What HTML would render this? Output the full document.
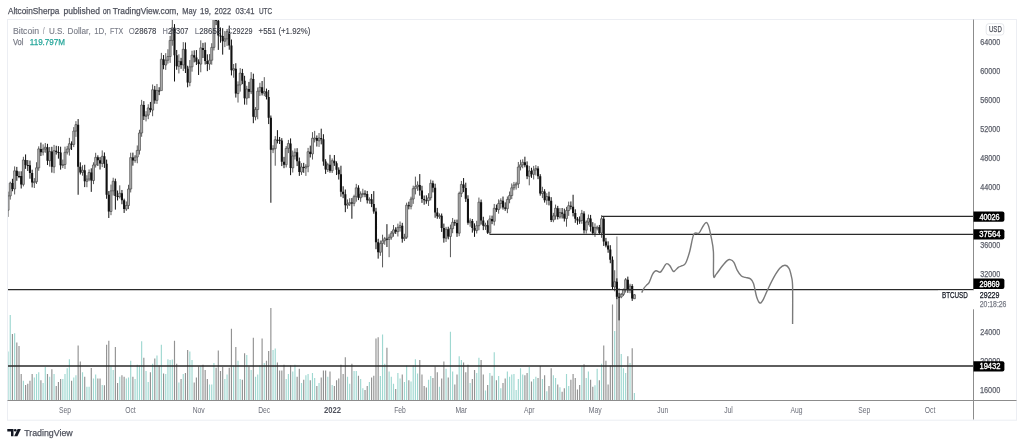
<!DOCTYPE html><html><head><meta charset="utf-8"><style>html,body{margin:0;padding:0;background:#fff;width:1024px;height:445px;overflow:hidden;position:relative}</style></head><body><svg width="1024" height="445" viewBox="0 0 1024 445" style="position:absolute;left:0;top:0;will-change:transform;filter:blur(0.4px);font-family:'Liberation Sans',sans-serif">
<rect x="7.5" y="19.5" width="1009" height="400.7" fill="none" stroke="#eceef3" stroke-width="1"/>
<defs><clipPath id="pc"><rect x="8" y="20" width="965" height="380"/></clipPath></defs>
<g clip-path="url(#pc)">
<path d="M8.06 351.60V400.0M10.25 314.90V400.0M14.63 333.30V400.0M23.39 380.70V400.0M34.34 377.50V400.0M36.53 373.90V400.0M38.72 372.20V400.0M43.10 383.00V400.0M45.29 367.00V400.0M49.67 376.80V400.0M54.05 373.90V400.0M62.81 379.10V400.0M65.00 373.90V400.0M67.19 368.30V400.0M69.38 359.20V400.0M73.76 377.50V400.0M75.95 375.20V400.0M82.52 372.20V400.0M86.90 386.70V400.0M89.09 386.70V400.0M93.47 378.40V400.0M95.66 374.50V400.0M102.23 384.90V400.0M110.99 366.50V400.0M113.18 370.00V400.0M119.75 376.80V400.0M126.32 378.40V400.0M128.51 377.50V400.0M130.70 360.80V400.0M135.08 379.10V400.0M137.27 364.70V400.0M139.46 365.40V400.0M141.65 341.30V400.0M146.03 371.10V400.0M148.22 382.10V400.0M152.60 363.80V400.0M156.98 355.50V400.0M161.36 344.70V400.0M165.74 373.90V400.0M167.93 359.20V400.0M170.12 360.10V400.0M172.31 359.60V400.0M178.88 382.60V400.0M183.26 373.90V400.0M189.83 351.60V400.0M192.02 360.10V400.0M200.78 366.50V400.0M209.54 384.40V400.0M211.73 384.40V400.0M213.92 363.10V400.0M224.87 379.10V400.0M227.06 374.50V400.0M233.63 365.40V400.0M238.01 360.80V400.0M240.20 379.10V400.0M246.77 355.00V400.0M251.15 370.00V400.0M255.53 376.80V400.0M257.72 374.50V400.0M259.91 365.40V400.0M264.29 363.10V400.0M273.05 350.00V400.0M275.24 348.60V400.0M286.19 379.10V400.0M288.38 373.90V400.0M292.76 371.60V400.0M294.95 364.70V400.0M301.52 383.00V400.0M305.90 375.20V400.0M308.09 373.90V400.0M312.47 372.90V400.0M314.66 378.00V400.0M319.04 383.00V400.0M327.80 376.80V400.0M332.18 384.90V400.0M347.51 376.80V400.0M349.70 383.70V400.0M354.08 371.10V400.0M356.27 371.10V400.0M360.65 379.10V400.0M362.84 388.30V400.0M369.41 382.10V400.0M380.36 376.10V400.0M382.55 334.40V400.0M384.74 363.80V400.0M389.12 371.60V400.0M391.31 376.80V400.0M393.50 383.70V400.0M397.88 372.90V400.0M400.07 378.40V400.0M404.45 382.10V400.0M406.64 365.40V400.0M411.02 381.40V400.0M413.21 365.40V400.0M415.40 359.20V400.0M417.59 373.40V400.0M428.54 379.80V400.0M430.73 376.10V400.0M439.49 386.70V400.0M446.06 368.80V400.0M450.44 331.70V400.0M452.63 371.60V400.0M459.20 356.20V400.0M461.39 360.10V400.0M470.15 383.00V400.0M476.72 372.90V400.0M478.91 357.80V400.0M485.48 390.60V400.0M489.86 372.90V400.0M494.24 352.30V400.0M498.62 376.10V400.0M500.81 388.30V400.0M507.38 371.60V400.0M509.57 376.80V400.0M511.76 374.50V400.0M513.95 373.90V400.0M516.14 389.90V400.0M518.33 379.10V400.0M520.52 368.30V400.0M522.71 374.50V400.0M529.28 367.00V400.0M533.66 379.10V400.0M535.85 376.80V400.0M542.42 379.10V400.0M546.80 391.30V400.0M553.37 375.20V400.0M555.56 378.00V400.0M559.94 387.20V400.0M566.51 373.90V400.0M568.70 386.00V400.0M581.84 366.50V400.0M586.22 378.00V400.0M588.41 371.60V400.0M594.98 385.30V400.0M597.17 368.80V400.0M601.55 363.80V400.0M614.69 331.00V400.0M621.26 353.90V400.0M623.45 368.30V400.0M625.64 372.90V400.0M630.02 363.10V400.0M634.40 392.90V400.0" stroke="#9fd8d1" stroke-width="1.15" fill="none"/><path d="M12.44 334.00V400.0M16.82 342.40V400.0M19.01 345.90V400.0M21.20 373.90V400.0M25.58 384.90V400.0M27.77 383.70V400.0M29.96 380.70V400.0M32.15 373.90V400.0M40.91 380.30V400.0M47.48 373.90V400.0M51.86 369.30V400.0M56.24 386.00V400.0M58.43 382.10V400.0M60.62 379.10V400.0M71.57 380.70V400.0M78.14 345.40V400.0M80.33 361.50V400.0M84.71 376.80V400.0M91.28 368.10V400.0M97.85 378.40V400.0M100.04 378.40V400.0M104.42 385.30V400.0M106.61 344.70V400.0M108.80 340.80V400.0M115.37 347.00V400.0M117.56 383.00V400.0M121.94 375.20V400.0M124.13 376.80V400.0M132.89 376.80V400.0M143.84 357.80V400.0M150.41 372.20V400.0M154.79 358.50V400.0M159.17 365.40V400.0M163.55 373.40V400.0M174.50 340.80V400.0M176.69 363.80V400.0M181.07 379.10V400.0M185.45 372.90V400.0M187.64 350.00V400.0M194.21 382.60V400.0M196.40 377.50V400.0M198.59 366.50V400.0M202.97 364.70V400.0M205.16 370.00V400.0M207.35 379.10V400.0M216.11 367.70V400.0M218.30 350.50V400.0M220.49 371.10V400.0M222.68 367.00V400.0M229.25 367.70V400.0M231.44 328.70V400.0M235.82 347.00V400.0M242.39 379.80V400.0M244.58 353.20V400.0M248.96 366.50V400.0M253.34 337.80V400.0M262.10 338.50V400.0M266.48 360.80V400.0M268.67 350.90V400.0M270.86 308.00V400.0M277.43 362.40V400.0M279.62 370.60V400.0M281.81 370.60V400.0M284.00 364.70V400.0M290.57 365.40V400.0M297.14 376.80V400.0M299.33 368.80V400.0M303.71 379.80V400.0M310.28 380.30V400.0M316.85 386.00V400.0M321.23 377.50V400.0M323.42 370.60V400.0M325.61 370.60V400.0M329.99 371.60V400.0M334.37 386.00V400.0M336.56 380.30V400.0M338.75 378.40V400.0M340.94 364.70V400.0M343.13 373.90V400.0M345.32 357.30V400.0M351.89 363.80V400.0M358.46 375.70V400.0M365.03 389.90V400.0M367.22 386.00V400.0M371.60 377.50V400.0M373.79 375.70V400.0M375.98 338.50V400.0M378.17 337.20V400.0M386.93 347.70V400.0M395.69 389.00V400.0M402.26 374.50V400.0M408.83 380.30V400.0M419.78 360.10V400.0M421.97 374.50V400.0M424.16 386.00V400.0M426.35 387.60V400.0M432.92 378.00V400.0M435.11 366.50V400.0M437.30 372.20V400.0M441.68 378.40V400.0M443.87 361.50V400.0M448.25 377.50V400.0M454.82 384.40V400.0M457.01 374.50V400.0M463.58 362.40V400.0M465.77 372.20V400.0M467.96 364.70V400.0M472.34 379.10V400.0M474.53 370.00V400.0M481.10 360.10V400.0M483.29 374.50V400.0M487.67 384.90V400.0M492.05 375.70V400.0M496.43 380.30V400.0M503.00 383.00V400.0M505.19 378.40V400.0M524.90 375.20V400.0M527.09 372.90V400.0M531.47 381.40V400.0M538.04 378.00V400.0M540.23 366.00V400.0M544.61 375.20V400.0M548.99 386.00V400.0M551.18 368.30V400.0M557.75 384.40V400.0M562.13 391.70V400.0M564.32 388.30V400.0M570.89 379.80V400.0M573.08 373.90V400.0M575.27 378.00V400.0M577.46 389.40V400.0M579.65 384.90V400.0M584.03 364.20V400.0M590.60 379.80V400.0M592.79 386.70V400.0M599.36 380.30V400.0M603.74 345.40V400.0M605.93 360.80V400.0M608.12 384.40V400.0M610.31 365.40V400.0M612.50 304.60V400.0M616.88 236.50V400.0M619.07 288.00V400.0M627.83 356.20V400.0M632.21 348.20V400.0" stroke="#929292" stroke-width="1.15" fill="none"/>
<path d="M5.87 207.65V220.83M8.06 191.64V216.90M10.25 181.69V199.61M14.63 166.37V194.44M23.39 156.79V186.39M34.34 178.11V188.01M36.53 162.24V183.94M38.72 146.33V170.74M43.10 144.34V155.43M45.29 142.97V152.79M49.67 147.03V166.61M54.05 144.92V173.18M62.81 159.56V168.12M65.00 146.66V168.96M67.19 145.88V154.51M69.38 137.85V155.59M73.76 127.12V147.12M75.95 121.15V136.86M82.52 165.28V175.69M86.90 175.22V187.22M89.09 169.43V181.21M93.47 162.30V184.13M95.66 152.79V167.57M102.23 150.43V167.10M110.99 184.60V215.18M113.18 177.73V195.55M119.75 185.32V198.53M126.32 201.48V210.92M128.51 184.79V209.09M130.70 152.71V192.46M135.08 155.02V162.72M137.27 145.44V163.26M139.46 129.77V154.57M141.65 99.85V136.77M146.03 111.18V121.41M148.22 104.27V119.17M152.60 84.46V116.23M156.98 83.97V103.88M161.36 52.86V76.42M165.74 53.13V69.90M167.93 49.24V63.63M170.12 35.91V62.87M172.31 19.92V45.72M178.88 54.31V73.45M183.26 42.14V71.05M189.83 60.06V86.26M192.02 50.74V71.65M200.78 40.32V72.27M209.54 54.09V69.89M211.73 43.23V64.69M213.92 12.33V50.45M224.87 31.05V47.14M227.06 28.98V45.92M233.63 64.00V77.73M238.01 81.37V102.56M240.20 68.13V91.61M246.77 85.82V104.74M251.15 72.14V94.09M255.53 107.13V120.37M257.72 87.51V119.26M259.91 82.81V95.93M264.29 77.15V96.10M273.05 145.22V153.10M275.24 136.12V165.72M286.19 146.07V167.45M288.38 139.91V153.10M292.76 150.55V172.55M294.95 148.37V159.57M301.52 163.14V174.92M305.90 164.23V175.88M308.09 147.88V172.23M312.47 132.12V159.55M314.66 130.87V142.43M319.04 132.99V146.93M327.80 162.83V172.03M332.18 158.44V173.03M347.51 199.41V208.80M349.70 198.21V206.03M354.08 194.73V206.27M356.27 183.87V201.70M360.65 191.36V201.85M362.84 188.78V197.28M369.41 197.35V203.81M380.36 240.52V255.82M382.55 234.69V267.36M384.74 236.91V244.77M389.12 234.34V257.20M391.31 231.06V239.70M393.50 225.03V236.71M397.88 223.63V236.51M400.07 221.48V231.59M404.45 233.79V241.05M406.64 202.68V238.95M411.02 196.71V209.36M413.21 185.65V203.87M415.40 176.61V194.39M417.59 181.35V190.80M428.54 193.21V205.98M430.73 179.64V200.42M439.49 213.40V218.84M446.06 226.85V241.95M450.44 224.61V257.20M452.63 217.99V233.19M459.20 191.66V236.18M461.39 180.94V197.10M470.15 218.36V226.73M476.72 220.83V233.47M478.91 197.55V230.24M485.48 222.71V229.96M489.86 215.43V234.23M494.24 203.95V225.50M498.62 199.36V213.69M500.81 198.30V208.56M507.38 196.46V213.15M509.57 191.53V203.27M511.76 183.46V199.12M513.95 181.95V190.24M516.14 181.85V189.62M518.33 161.96V188.03M520.52 159.74V170.42M522.71 159.29V168.30M529.28 165.88V185.32M533.66 165.89V179.46M535.85 165.15V175.44M542.42 186.77V198.12M546.80 193.20V204.79M553.37 212.85V222.23M555.56 204.59V219.64M559.94 208.06V218.68M566.51 206.85V226.70M568.70 201.62V215.85M581.84 209.90V223.82M586.22 220.39V233.52M588.41 214.52V225.23M594.98 223.35V236.87M597.17 225.52V230.43M601.55 215.28V237.81M614.69 270.26V291.32M621.26 292.93V298.24M623.45 288.55V296.09M625.64 278.01V292.59M630.02 283.72V293.23M634.40 294.17V298.90" stroke="#5a5a5a" stroke-width="1.0" fill="none"/><path d="M4.87 210.22h2.0V218.36h-2.0ZM7.06 195.92h2.0V210.22h-2.0ZM9.25 183.07h2.0V195.92h-2.0ZM13.63 170.87h2.0V188.95h-2.0ZM22.39 159.98h2.0V184.38h-2.0ZM33.34 181.69h2.0V182.69h-2.0ZM35.53 167.83h2.0V181.69h-2.0ZM37.72 148.88h2.0V167.83h-2.0ZM42.10 149.09h2.0V152.14h-2.0ZM44.29 147.21h2.0V149.09h-2.0ZM48.67 151.56h2.0V160.64h-2.0ZM53.05 150.69h2.0V166.81h-2.0ZM61.81 164.49h2.0V165.49h-2.0ZM64.00 152.29h2.0V164.49h-2.0ZM66.19 149.09h2.0V152.29h-2.0ZM68.38 143.72h2.0V149.09h-2.0ZM72.76 131.09h2.0V144.38h-2.0ZM74.95 124.63h2.0V131.09h-2.0ZM81.52 170.15h2.0V172.47h-2.0ZM85.90 179.08h2.0V181.33h-2.0ZM88.09 172.54h2.0V179.08h-2.0ZM92.47 164.99h2.0V180.53h-2.0ZM94.66 157.37h2.0V164.99h-2.0ZM101.23 156.28h2.0V163.54h-2.0ZM109.99 190.84h2.0V211.46h-2.0ZM112.18 181.26h2.0V190.84h-2.0ZM118.75 193.24h2.0V196.79h-2.0ZM125.32 205.50h2.0V209.06h-2.0ZM127.51 189.02h2.0V205.50h-2.0ZM129.70 157.59h2.0V189.02h-2.0ZM134.08 157.01h2.0V160.57h-2.0ZM136.27 150.40h2.0V157.01h-2.0ZM138.46 132.98h2.0V150.40h-2.0ZM140.65 105.03h2.0V132.98h-2.0ZM145.03 115.12h2.0V116.35h-2.0ZM147.22 107.93h2.0V115.12h-2.0ZM151.60 89.71h2.0V110.11h-2.0ZM155.98 90.43h2.0V100.38h-2.0ZM160.36 59.22h2.0V90.58h-2.0ZM164.74 60.23h2.0V65.02h-2.0ZM166.93 56.53h2.0V60.23h-2.0ZM169.12 40.41h2.0V56.53h-2.0ZM171.31 27.85h2.0V40.41h-2.0ZM177.88 61.25h2.0V66.33h-2.0ZM182.26 49.27h2.0V64.88h-2.0ZM188.83 66.84h2.0V82.38h-2.0ZM191.02 55.15h2.0V66.84h-2.0ZM199.78 47.89h2.0V64.08h-2.0ZM208.54 60.23h2.0V64.08h-2.0ZM210.73 47.38h2.0V60.23h-2.0ZM212.92 16.38h2.0V47.38h-2.0ZM223.87 38.89h2.0V41.21h-2.0ZM226.06 31.63h2.0V38.89h-2.0ZM232.63 68.65h2.0V70.18h-2.0ZM237.01 84.99h2.0V93.56h-2.0ZM239.20 73.08h2.0V84.99h-2.0ZM245.77 88.98h2.0V98.20h-2.0ZM250.15 78.89h2.0V91.74h-2.0ZM254.53 109.53h2.0V116.86h-2.0ZM256.72 91.16h2.0V109.53h-2.0ZM258.91 87.31h2.0V91.16h-2.0ZM263.29 91.45h2.0V93.19h-2.0ZM272.05 148.59h2.0V149.75h-2.0ZM274.24 139.73h2.0V148.59h-2.0ZM285.19 148.37h2.0V164.70h-2.0ZM287.38 143.58h2.0V148.37h-2.0ZM291.76 155.99h2.0V167.90h-2.0ZM293.95 152.22h2.0V155.99h-2.0ZM300.52 166.95h2.0V172.04h-2.0ZM304.90 166.37h2.0V168.04h-2.0ZM307.09 151.71h2.0V166.37h-2.0ZM311.47 138.28h2.0V153.89h-2.0ZM313.66 137.99h2.0V138.99h-2.0ZM318.04 138.06h2.0V140.82h-2.0ZM326.80 164.70h2.0V169.57h-2.0ZM331.18 160.71h2.0V170.73h-2.0ZM346.51 203.98h2.0V205.21h-2.0ZM348.70 202.60h2.0V203.98h-2.0ZM353.08 196.65h2.0V203.33h-2.0ZM355.27 187.86h2.0V196.65h-2.0ZM359.65 194.03h2.0V197.74h-2.0ZM361.84 193.45h2.0V194.45h-2.0ZM368.41 199.33h2.0V200.33h-2.0ZM379.36 243.55h2.0V252.26h-2.0ZM381.55 240.79h2.0V243.55h-2.0ZM383.74 238.68h2.0V240.79h-2.0ZM388.12 237.30h2.0V239.41h-2.0ZM390.31 233.17h2.0V237.30h-2.0ZM392.50 229.83h2.0V233.17h-2.0ZM396.88 227.58h2.0V231.64h-2.0ZM399.07 225.69h2.0V227.58h-2.0ZM403.45 237.23h2.0V238.68h-2.0ZM405.64 205.14h2.0V237.23h-2.0ZM410.02 199.04h2.0V206.30h-2.0ZM412.21 188.66h2.0V199.04h-2.0ZM414.40 186.63h2.0V188.66h-2.0ZM416.59 185.03h2.0V186.63h-2.0ZM427.54 197.74h2.0V200.57h-2.0ZM429.73 183.29h2.0V197.74h-2.0ZM438.49 215.67h2.0V216.67h-2.0ZM445.06 229.25h2.0V238.17h-2.0ZM449.44 228.66h2.0V236.43h-2.0ZM451.63 222.28h2.0V228.66h-2.0ZM458.20 193.38h2.0V233.17h-2.0ZM460.39 184.45h2.0V193.38h-2.0ZM469.15 220.90h2.0V222.78h-2.0ZM475.72 225.69h2.0V230.62h-2.0ZM477.91 202.17h2.0V225.69h-2.0ZM484.48 225.18h2.0V226.18h-2.0ZM488.86 218.94h2.0V232.66h-2.0ZM493.24 208.26h2.0V221.33h-2.0ZM497.62 203.47h2.0V209.64h-2.0ZM499.81 200.64h2.0V203.47h-2.0ZM506.38 199.41h2.0V208.70h-2.0ZM508.57 195.56h2.0V199.41h-2.0ZM510.76 187.79h2.0V195.56h-2.0ZM512.95 184.96h2.0V187.79h-2.0ZM515.14 183.87h2.0V184.96h-2.0ZM517.33 167.03h2.0V183.87h-2.0ZM519.52 164.78h2.0V167.03h-2.0ZM521.71 162.31h2.0V164.78h-2.0ZM528.28 170.95h2.0V176.32h-2.0ZM532.66 170.00h2.0V174.36h-2.0ZM534.85 168.48h2.0V170.00h-2.0ZM541.42 191.57h2.0V193.53h-2.0ZM545.80 196.50h2.0V200.20h-2.0ZM552.37 215.89h2.0V219.95h-2.0ZM554.56 208.19h2.0V215.89h-2.0ZM558.94 212.55h2.0V216.98h-2.0ZM565.51 210.51h2.0V218.57h-2.0ZM567.70 205.65h2.0V210.51h-2.0ZM580.84 213.42h2.0V220.53h-2.0ZM585.22 222.06h2.0V230.19h-2.0ZM587.41 218.43h2.0V222.06h-2.0ZM593.98 227.65h2.0V233.17h-2.0ZM596.17 227.21h2.0V228.21h-2.0ZM600.55 218.79h2.0V232.88h-2.0ZM613.69 281.73h2.0V286.96h-2.0ZM620.26 294.37h2.0V296.98h-2.0ZM622.45 289.94h2.0V294.37h-2.0ZM624.64 279.70h2.0V289.94h-2.0ZM629.02 286.09h2.0V290.23h-2.0ZM633.40 294.74h2.0V298.74h-2.0Z" fill="#b4b4b4" stroke="#4a4a4a" stroke-width="0.7"/><path d="M12.44 178.79V191.27M16.82 166.90V180.76M19.01 171.30V178.16M21.20 171.28V188.52M25.58 154.41V168.88M27.77 160.06V170.98M29.96 160.55V178.73M32.15 169.69V187.45M40.91 142.64V156.01M47.48 143.81V165.06M51.86 146.80V172.63M56.24 145.77V154.57M58.43 146.17V158.66M60.62 146.70V169.65M71.57 141.36V149.99M78.14 119.05V194.76M80.33 162.34V174.47M84.71 164.78V187.11M91.28 168.32V191.86M97.85 155.31V165.94M100.04 157.06V169.54M104.42 152.44V167.93M106.61 159.61V198.79M108.80 191.08V217.99M115.37 178.65V209.64M117.56 190.50V200.50M121.94 189.98V204.25M124.13 198.67V212.98M132.89 152.63V165.66M143.84 101.13V120.00M150.41 101.93V112.39M154.79 85.92V103.72M159.17 87.20V95.11M163.55 55.04V69.27M174.50 24.13V81.50M176.69 49.98V69.77M181.07 57.84V68.82M185.45 42.45V73.00M187.64 65.74V87.31M194.21 50.35V62.36M196.40 50.05V65.04M198.59 59.34V74.97M202.97 42.92V58.00M205.16 42.45V64.54M207.35 54.33V71.14M216.11 10.15V25.12M218.30 13.38V49.92M220.49 27.50V42.72M222.68 28.12V54.64M229.25 25.60V49.73M231.44 39.49V75.43M235.82 63.23V97.57M242.39 68.89V84.14M244.58 75.82V104.62M248.96 81.92V98.20M253.34 73.69V123.21M262.10 81.03V95.44M266.48 88.59V99.46M268.67 90.01V124.09M270.86 115.49V202.75M277.43 130.15V143.45M279.62 136.94V144.02M281.81 138.13V166.08M284.00 156.86V168.19M290.57 138.40V175.16M297.14 148.19V166.08M299.33 157.56V175.88M303.71 162.84V172.84M310.28 145.64V157.46M316.85 135.44V146.55M321.23 128.69V144.37M323.42 134.23V165.76M325.61 159.18V173.89M329.99 154.83V172.73M334.37 155.04V165.88M336.56 161.33V175.04M338.75 167.34V179.55M340.94 165.72V196.73M343.13 186.27V198.15M345.32 189.51V212.18M351.89 198.10V218.72M358.46 185.25V200.11M365.03 190.31V197.22M367.22 190.95V203.48M371.60 193.98V207.12M373.79 191.13V213.72M375.98 207.80V249.21M378.17 238.78V258.65M386.93 224.16V247.03M395.69 227.25V233.93M402.26 222.84V242.68M408.83 201.70V209.38M419.78 174.07V195.66M421.97 185.77V202.87M424.16 195.53V204.72M426.35 195.32V203.77M432.92 180.62V192.40M435.11 183.70V217.76M437.30 207.92V218.78M441.68 213.50V231.92M443.87 223.58V242.67M448.25 226.72V239.34M454.82 219.70V225.88M457.01 219.59V236.87M463.58 178.06V192.15M465.77 182.71V201.94M467.96 195.27V224.74M472.34 218.99V232.64M474.53 223.35V236.87M481.10 199.55V224.59M483.29 216.77V230.13M487.67 220.38V233.96M492.05 215.62V224.14M496.43 204.54V211.93M503.00 196.55V209.55M505.19 202.35V210.84M524.90 156.71V167.31M527.09 161.40V179.13M531.47 167.76V177.85M538.04 166.23V179.16M540.23 174.16V195.66M544.61 189.19V202.59M548.99 191.70V205.40M551.18 197.17V222.03M557.75 205.89V219.46M562.13 207.99V218.51M564.32 208.63V221.52M570.89 201.43V209.42M573.08 194.76V216.43M575.27 209.31V222.84M577.46 217.09V224.72M579.65 216.45V223.85M584.03 211.25V233.53M590.60 214.92V231.60M592.79 222.15V235.11M599.36 224.93V234.62M603.74 216.35V245.93M605.93 237.89V247.36M608.12 241.33V252.77M610.31 245.20V263.23M612.50 256.43V289.10M616.88 278.32V299.13M619.07 292.89V320.36M627.83 276.62V292.87M632.21 284.17V300.92" stroke="#111" stroke-width="1" fill="none"/><path d="M11.39 183.07h2.1V188.95h-2.1ZM15.77 170.87h2.1V175.88h-2.1ZM17.96 175.88h2.1V176.88h-2.1ZM20.15 176.10h2.1V184.38h-2.1ZM24.53 159.98h2.1V164.99h-2.1ZM26.72 164.99h2.1V165.99h-2.1ZM28.91 165.36h2.1V173.05h-2.1ZM31.10 173.05h2.1V182.42h-2.1ZM39.86 148.88h2.1V152.14h-2.1ZM46.43 147.21h2.1V160.64h-2.1ZM50.81 151.56h2.1V166.81h-2.1ZM55.19 150.69h2.1V151.93h-2.1ZM57.38 151.93h2.1V152.93h-2.1ZM59.57 152.43h2.1V165.36h-2.1ZM70.52 143.72h2.1V144.72h-2.1ZM77.09 124.63h2.1V166.74h-2.1ZM79.28 166.74h2.1V172.47h-2.1ZM83.66 170.15h2.1V181.33h-2.1ZM90.23 172.54h2.1V180.53h-2.1ZM96.80 157.37h2.1V160.27h-2.1ZM98.99 160.27h2.1V163.54h-2.1ZM103.37 156.28h2.1V163.83h-2.1ZM105.56 163.83h2.1V194.76h-2.1ZM107.75 194.76h2.1V211.46h-2.1ZM114.32 181.26h2.1V195.99h-2.1ZM116.51 195.99h2.1V196.99h-2.1ZM120.89 193.24h2.1V200.35h-2.1ZM123.08 200.35h2.1V209.06h-2.1ZM131.84 157.59h2.1V160.57h-2.1ZM142.79 105.03h2.1V116.35h-2.1ZM149.36 107.93h2.1V110.11h-2.1ZM153.74 89.71h2.1V100.38h-2.1ZM158.12 90.43h2.1V91.43h-2.1ZM162.50 59.22h2.1V65.02h-2.1ZM173.45 27.85h2.1V55.30h-2.1ZM175.64 55.30h2.1V66.33h-2.1ZM180.02 61.25h2.1V64.88h-2.1ZM184.40 49.27h2.1V68.73h-2.1ZM186.59 68.73h2.1V82.38h-2.1ZM193.16 55.15h2.1V57.62h-2.1ZM195.35 57.62h2.1V61.76h-2.1ZM197.54 61.76h2.1V64.08h-2.1ZM201.92 47.89h2.1V50.07h-2.1ZM204.11 50.07h2.1V60.89h-2.1ZM206.30 60.89h2.1V64.08h-2.1ZM215.06 16.38h2.1V20.74h-2.1ZM217.25 20.74h2.1V35.40h-2.1ZM219.44 35.40h2.1V36.40h-2.1ZM221.63 36.06h2.1V41.21h-2.1ZM228.20 31.63h2.1V45.49h-2.1ZM230.39 45.49h2.1V70.18h-2.1ZM234.77 68.65h2.1V93.56h-2.1ZM241.34 73.08h2.1V80.78h-2.1ZM243.53 80.78h2.1V98.20h-2.1ZM247.91 88.98h2.1V91.74h-2.1ZM252.29 78.89h2.1V116.86h-2.1ZM261.05 87.31h2.1V93.19h-2.1ZM265.43 91.45h2.1V96.90h-2.1ZM267.62 96.90h2.1V117.80h-2.1ZM269.81 117.80h2.1V149.75h-2.1ZM276.38 139.73h2.1V140.73h-2.1ZM278.57 139.80h2.1V140.80h-2.1ZM280.76 140.53h2.1V161.80h-2.1ZM282.95 161.80h2.1V164.70h-2.1ZM289.52 143.58h2.1V167.90h-2.1ZM296.09 152.22h2.1V161.15h-2.1ZM298.28 161.15h2.1V172.04h-2.1ZM302.66 166.95h2.1V168.04h-2.1ZM309.23 151.71h2.1V153.89h-2.1ZM315.80 137.99h2.1V140.82h-2.1ZM320.18 138.06h2.1V139.29h-2.1ZM322.37 139.29h2.1V161.44h-2.1ZM324.56 161.44h2.1V169.57h-2.1ZM328.94 164.70h2.1V170.73h-2.1ZM333.32 160.71h2.1V163.25h-2.1ZM335.51 163.25h2.1V169.64h-2.1ZM337.70 169.64h2.1V174.21h-2.1ZM339.89 174.21h2.1V191.71h-2.1ZM342.08 191.71h2.1V194.18h-2.1ZM344.27 194.18h2.1V205.21h-2.1ZM350.84 202.60h2.1V203.60h-2.1ZM357.41 187.86h2.1V197.74h-2.1ZM363.98 193.45h2.1V194.45h-2.1ZM366.17 193.96h2.1V200.20h-2.1ZM370.55 199.33h2.1V203.91h-2.1ZM372.74 203.91h2.1V211.53h-2.1ZM374.93 211.53h2.1V242.31h-2.1ZM377.12 242.31h2.1V252.26h-2.1ZM385.88 238.68h2.1V239.68h-2.1ZM394.64 229.83h2.1V231.64h-2.1ZM401.21 225.69h2.1V238.68h-2.1ZM407.78 205.14h2.1V206.30h-2.1ZM418.73 185.03h2.1V190.62h-2.1ZM420.92 190.62h2.1V199.04h-2.1ZM423.11 199.04h2.1V200.28h-2.1ZM425.30 200.28h2.1V201.28h-2.1ZM431.87 183.29h2.1V187.79h-2.1ZM434.06 187.79h2.1V212.62h-2.1ZM436.25 212.62h2.1V216.32h-2.1ZM440.63 215.67h2.1V227.94h-2.1ZM442.82 227.94h2.1V238.17h-2.1ZM447.20 229.25h2.1V236.43h-2.1ZM453.77 222.28h2.1V223.28h-2.1ZM455.96 223.07h2.1V233.17h-2.1ZM462.53 184.45h2.1V188.08h-2.1ZM464.72 188.08h2.1V198.75h-2.1ZM466.91 198.75h2.1V222.78h-2.1ZM471.29 220.90h2.1V228.01h-2.1ZM473.48 228.01h2.1V230.62h-2.1ZM480.05 202.17h2.1V220.61h-2.1ZM482.24 220.61h2.1V225.76h-2.1ZM486.62 225.18h2.1V232.66h-2.1ZM491.00 218.94h2.1V221.33h-2.1ZM495.38 208.26h2.1V209.64h-2.1ZM501.95 200.64h2.1V207.46h-2.1ZM504.14 207.46h2.1V208.70h-2.1ZM523.85 162.31h2.1V165.28h-2.1ZM526.04 165.28h2.1V176.32h-2.1ZM530.42 170.95h2.1V174.36h-2.1ZM536.99 168.48h2.1V176.25h-2.1ZM539.18 176.25h2.1V193.53h-2.1ZM543.56 191.57h2.1V200.20h-2.1ZM547.94 196.50h2.1V200.86h-2.1ZM550.13 200.86h2.1V219.95h-2.1ZM556.70 208.19h2.1V216.98h-2.1ZM561.08 212.55h2.1V213.64h-2.1ZM563.27 213.64h2.1V218.57h-2.1ZM569.84 205.65h2.1V206.67h-2.1ZM572.03 206.67h2.1V213.06h-2.1ZM574.22 213.06h2.1V218.65h-2.1ZM576.41 218.65h2.1V220.39h-2.1ZM578.60 220.39h2.1V221.39h-2.1ZM582.98 213.42h2.1V230.19h-2.1ZM589.55 218.43h2.1V226.70h-2.1ZM591.74 226.70h2.1V233.17h-2.1ZM598.31 227.21h2.1V232.88h-2.1ZM602.69 218.79h2.1V241.59h-2.1ZM604.88 241.59h2.1V245.51h-2.1ZM607.07 245.51h2.1V249.43h-2.1ZM609.26 249.43h2.1V259.66h-2.1ZM611.45 259.66h2.1V286.96h-2.1ZM615.83 281.73h2.1V296.84h-2.1ZM618.02 296.84h2.1V297.84h-2.1ZM626.78 279.70h2.1V290.23h-2.1ZM631.16 286.09h2.1V298.58h-2.1Z" fill="#111"/>
</g>
<path d="M602 216.4H973M489.5 234.3H973M8 289.6H973M8 366H973" stroke="#2a2a2a" stroke-width="1.3" fill="none"/>
<path d="M641.70 292.60 C642.12 291.82 643.28 289.25 644.20 287.90 C645.12 286.55 646.37 285.43 647.20 284.50 C648.03 283.57 648.35 283.92 649.20 282.30 C650.05 280.68 651.45 276.57 652.30 274.80 C653.15 273.03 653.63 272.38 654.30 271.70 C654.97 271.02 655.35 270.60 656.30 270.70 C657.25 270.80 658.98 272.47 660.00 272.30 C661.02 272.13 661.60 270.80 662.40 269.70 C663.20 268.60 664.07 266.72 664.80 265.70 C665.53 264.68 665.95 263.60 666.80 263.60 C667.65 263.60 668.88 264.45 669.90 265.70 C670.92 266.95 672.07 270.27 672.90 271.10 C673.73 271.93 673.95 271.37 674.90 270.70 C675.85 270.03 677.38 267.93 678.60 267.10 C679.82 266.27 681.02 266.38 682.20 265.70 C683.38 265.02 684.45 265.37 685.70 263.00 C686.95 260.63 688.35 256.28 689.70 251.50 C691.05 246.72 692.28 237.33 693.80 234.30 C695.32 231.27 697.35 234.48 698.80 233.30 C700.25 232.12 701.32 228.98 702.50 227.20 C703.68 225.42 704.93 222.93 705.90 222.60 C706.87 222.27 707.45 222.92 708.30 225.20 C709.15 227.48 710.15 231.92 711.00 236.30 C711.85 240.68 712.97 244.92 713.40 251.50 C713.83 258.08 713.15 271.98 713.60 275.80 C714.05 279.62 714.68 275.98 716.10 274.40 C717.52 272.82 720.25 268.60 722.10 266.30 C723.95 264.00 725.85 261.72 727.20 260.60 C728.55 259.48 729.08 259.32 730.20 259.60 C731.32 259.88 732.72 260.50 733.90 262.30 C735.08 264.10 736.05 268.12 737.30 270.40 C738.55 272.68 740.05 274.83 741.40 276.00 C742.75 277.17 743.88 276.92 745.40 277.40 C746.92 277.88 749.15 277.88 750.50 278.90 C751.85 279.92 752.48 280.53 753.50 283.50 C754.52 286.47 755.58 293.48 756.60 296.70 C757.62 299.92 758.60 302.13 759.60 302.80 C760.60 303.47 761.25 302.90 762.60 300.70 C763.95 298.50 765.83 293.48 767.70 289.60 C769.57 285.72 771.78 280.95 773.80 277.40 C775.82 273.85 777.95 270.32 779.80 268.30 C781.65 266.28 783.37 265.30 784.90 265.30 C786.43 265.30 787.92 266.45 789.00 268.30 C790.08 270.15 790.80 273.35 791.40 276.40 C792.00 279.45 792.40 278.67 792.60 286.60 C792.80 294.53 792.60 317.77 792.60 324.00" stroke="#7a7a7a" stroke-width="1.4" fill="none" stroke-linejoin="round"/>
<path d="M973.5 19.5V419.5M7.5 400.5H1016.5" stroke="#8c8c8c" stroke-width="1" fill="none"/>
<text x="980.17" y="45.0" font-size="8.8" fill="#5d606b" stroke="#5d606b" stroke-width="0.25" font-weight="normal" textLength="20.03" lengthAdjust="spacingAndGlyphs">64000</text>
<text x="980.17" y="74.04" font-size="8.8" fill="#5d606b" stroke="#5d606b" stroke-width="0.25" font-weight="normal" textLength="20.03" lengthAdjust="spacingAndGlyphs">60000</text>
<text x="980.17" y="103.08" font-size="8.8" fill="#5d606b" stroke="#5d606b" stroke-width="0.25" font-weight="normal" textLength="20.03" lengthAdjust="spacingAndGlyphs">56000</text>
<text x="980.17" y="132.12" font-size="8.8" fill="#5d606b" stroke="#5d606b" stroke-width="0.25" font-weight="normal" textLength="20.03" lengthAdjust="spacingAndGlyphs">52000</text>
<text x="980.17" y="161.16" font-size="8.8" fill="#5d606b" stroke="#5d606b" stroke-width="0.25" font-weight="normal" textLength="20.03" lengthAdjust="spacingAndGlyphs">48000</text>
<text x="980.17" y="190.2" font-size="8.8" fill="#5d606b" stroke="#5d606b" stroke-width="0.25" font-weight="normal" textLength="20.03" lengthAdjust="spacingAndGlyphs">44000</text>
<text x="980.13" y="219.24" font-size="8.8" fill="#5d606b" stroke="#5d606b" stroke-width="0.25" font-weight="normal" textLength="20.11" lengthAdjust="spacingAndGlyphs">40000</text>
<text x="980.19" y="248.28" font-size="8.8" fill="#5d606b" stroke="#5d606b" stroke-width="0.25" font-weight="normal" textLength="20.03" lengthAdjust="spacingAndGlyphs">36000</text>
<text x="980.19" y="277.32" font-size="8.8" fill="#5d606b" stroke="#5d606b" stroke-width="0.25" font-weight="normal" textLength="20.03" lengthAdjust="spacingAndGlyphs">32000</text>
<text x="980.14" y="306.36" font-size="8.8" fill="#5d606b" stroke="#5d606b" stroke-width="0.25" font-weight="normal" textLength="20.11" lengthAdjust="spacingAndGlyphs">28000</text>
<text x="980.19" y="335.4" font-size="8.8" fill="#5d606b" stroke="#5d606b" stroke-width="0.25" font-weight="normal" textLength="20.03" lengthAdjust="spacingAndGlyphs">24000</text>
<text x="980.14" y="364.44" font-size="8.8" fill="#5d606b" stroke="#5d606b" stroke-width="0.25" font-weight="normal" textLength="20.11" lengthAdjust="spacingAndGlyphs">20000</text>
<text x="979.99" y="393.48" font-size="8.8" fill="#5d606b" stroke="#5d606b" stroke-width="0.25" font-weight="normal" textLength="20.28" lengthAdjust="spacingAndGlyphs">16000</text>
<rect x="938" y="290.3" width="35" height="9.7" fill="#fff" fill-opacity="0.6"/>
<rect x="973" y="290.3" width="34" height="19" fill="#fff"/>
<path d="M973.5 211.4H1002.4Q1004.4 211.4 1004.4 213.4V219.8Q1004.4 221.8 1002.4 221.8H973.5Z" fill="#000"/>
<path d="M973.5 229.2H1002.4Q1004.4 229.2 1004.4 231.2V237.6Q1004.4 239.6 1002.4 239.6H973.5Z" fill="#000"/>
<path d="M973.5 278.6H1002.4Q1004.4 278.6 1004.4 280.6V287.0Q1004.4 289.0 1002.4 289.0H973.5Z" fill="#000"/>
<path d="M973.5 361.2H1002.4Q1004.4 361.2 1004.4 363.2V369.59999999999997Q1004.4 371.59999999999997 1002.4 371.59999999999997H973.5Z" fill="#000"/>
<rect x="986.2" y="23.7" width="17.6" height="11.3" rx="2.5" fill="#fff" stroke="#e3e5ea" stroke-width="0.9"/>
<text x="7.97" y="14.1" font-size="8.6" fill="#50535e" stroke="#50535e" stroke-width="0.25" font-weight="normal" textLength="51.47" lengthAdjust="spacingAndGlyphs">AltcoinSherpa</text>
<text x="63.55" y="14.1" font-size="8.6" fill="#50535e" stroke="#50535e" stroke-width="0.25" font-weight="normal" textLength="36.31" lengthAdjust="spacingAndGlyphs">published</text>
<text x="102.78" y="14.1" font-size="8.6" fill="#50535e" stroke="#50535e" stroke-width="0.25" font-weight="normal" textLength="8.08" lengthAdjust="spacingAndGlyphs">on</text>
<text x="112.76" y="14.1" font-size="8.6" fill="#50535e" stroke="#50535e" stroke-width="0.25" font-weight="normal" textLength="65.88" lengthAdjust="spacingAndGlyphs">TradingView.com,</text>
<text x="182.33" y="14.1" font-size="8.6" fill="#50535e" stroke="#50535e" stroke-width="0.25" font-weight="normal" textLength="14.14" lengthAdjust="spacingAndGlyphs">May</text>
<text x="199.98" y="14.1" font-size="8.6" fill="#50535e" stroke="#50535e" stroke-width="0.25" font-weight="normal" textLength="11.09" lengthAdjust="spacingAndGlyphs">19,</text>
<text x="214.56" y="14.1" font-size="8.6" fill="#50535e" stroke="#50535e" stroke-width="0.25" font-weight="normal" textLength="16.48" lengthAdjust="spacingAndGlyphs">2022</text>
<text x="235.53" y="14.1" font-size="8.6" fill="#50535e" stroke="#50535e" stroke-width="0.25" font-weight="normal" textLength="18.92" lengthAdjust="spacingAndGlyphs">03:41</text>
<text x="258.91" y="14.1" font-size="8.6" fill="#50535e" stroke="#50535e" stroke-width="0.25" font-weight="normal" textLength="13.17" lengthAdjust="spacingAndGlyphs">UTC</text>
<text x="12.96" y="33.6" font-size="8.9" fill="#787b86" stroke="#787b86" stroke-width="0.12" font-weight="normal" textLength="26.12" lengthAdjust="spacingAndGlyphs">Bitcoin</text>
<text x="42.99" y="33.6" font-size="8.9" fill="#787b86" stroke="#787b86" stroke-width="0.12" font-weight="normal" textLength="1.47" lengthAdjust="spacingAndGlyphs">/</text>
<text x="48.95" y="33.6" font-size="8.9" fill="#787b86" stroke="#787b86" stroke-width="0.12" font-weight="normal" textLength="15.67" lengthAdjust="spacingAndGlyphs">U.S.</text>
<text x="67.55" y="33.6" font-size="8.9" fill="#787b86" stroke="#787b86" stroke-width="0.12" font-weight="normal" textLength="23.10" lengthAdjust="spacingAndGlyphs">Dollar,</text>
<text x="94.16" y="33.6" font-size="8.9" fill="#787b86" stroke="#787b86" stroke-width="0.12" font-weight="normal" textLength="12.31" lengthAdjust="spacingAndGlyphs">1D,</text>
<text x="109.92" y="33.6" font-size="8.9" fill="#787b86" stroke="#787b86" stroke-width="0.12" font-weight="normal" textLength="13.35" lengthAdjust="spacingAndGlyphs">FTX</text>
<text x="128.74" y="33.6" font-size="8.9" fill="#787b86" stroke="#787b86" stroke-width="0.12" font-weight="normal" textLength="27.72" lengthAdjust="spacingAndGlyphs">O<tspan fill="#3b3e48" stroke="#3b3e48">28678</tspan></text>
<text x="162.53" y="33.6" font-size="8.9" fill="#787b86" stroke="#787b86" stroke-width="0.12" font-weight="normal" textLength="25.93" lengthAdjust="spacingAndGlyphs">H<tspan fill="#3b3e48" stroke="#3b3e48">29307</tspan></text>
<text x="194.74" y="33.6" font-size="8.9" fill="#787b86" stroke="#787b86" stroke-width="0.12" font-weight="normal" textLength="26.50" lengthAdjust="spacingAndGlyphs">L<tspan fill="#3b3e48" stroke="#3b3e48">28655</tspan></text>
<text x="227.36" y="33.6" font-size="8.9" fill="#787b86" stroke="#787b86" stroke-width="0.12" font-weight="normal" textLength="25.11" lengthAdjust="spacingAndGlyphs">C<tspan fill="#3b3e48" stroke="#3b3e48">29229</tspan></text>
<text x="258.56" y="33.6" font-size="8.9" fill="#3b3e48" stroke="#3b3e48" stroke-width="0.12" font-weight="normal" textLength="51.89" lengthAdjust="spacingAndGlyphs">+551 (+1.92%)</text>
<text x="12.99" y="45.3" font-size="8.9" fill="#787b86" stroke="#787b86" stroke-width="0.25" font-weight="normal" textLength="10.52" lengthAdjust="spacingAndGlyphs">Vol</text>
<text x="29.75" y="45.3" font-size="8.9" fill="#26a69a" stroke="#26a69a" stroke-width="0.25" font-weight="normal" textLength="35.32" lengthAdjust="spacingAndGlyphs">119.797M</text>
<text x="941.96" y="298.3" font-size="8.3" fill="#131722" stroke="#131722" stroke-width="0.25" font-weight="normal" textLength="25.88" lengthAdjust="spacingAndGlyphs">BTCUSD</text>
<text x="979.80" y="298.3" font-size="8.3" fill="#131722" stroke="#131722" stroke-width="0.25" font-weight="normal" textLength="19.65" lengthAdjust="spacingAndGlyphs">29229</text>
<text x="979.76" y="307.3" font-size="8.3" fill="#787b86" stroke="#787b86" stroke-width="0.25" font-weight="normal" textLength="26.68" lengthAdjust="spacingAndGlyphs">20:18:26</text>
<text x="24.15" y="436.2" font-size="9.0" fill="#50535e" stroke="#50535e" stroke-width="0.25" font-weight="normal" textLength="48.52" lengthAdjust="spacingAndGlyphs">TradingView</text>
<text x="979.39" y="219.6" font-size="8.2" fill="#ffffff" stroke="#ffffff" stroke-width="0.35" font-weight="normal" textLength="20.25" lengthAdjust="spacingAndGlyphs">40026</text>
<text x="979.37" y="237.4" font-size="8.2" fill="#ffffff" stroke="#ffffff" stroke-width="0.35" font-weight="normal" textLength="21.26" lengthAdjust="spacingAndGlyphs">37564</text>
<text x="979.39" y="286.8" font-size="8.2" fill="#ffffff" stroke="#ffffff" stroke-width="0.35" font-weight="normal" textLength="20.25" lengthAdjust="spacingAndGlyphs">29869</text>
<text x="979.40" y="369.4" font-size="8.2" fill="#ffffff" stroke="#ffffff" stroke-width="0.35" font-weight="normal" textLength="21.21" lengthAdjust="spacingAndGlyphs">19432</text>
<text x="989.00" y="32.1" font-size="8.2" fill="#50535e" stroke="#50535e" stroke-width="0.25" font-weight="normal" textLength="12.78" lengthAdjust="spacingAndGlyphs">USD</text>
<text x="65" y="412.8" font-size="8.4" fill="#6a6d78" text-anchor="middle" transform="translate(65 0) scale(0.807 1) translate(-65 0)">Sep</text>
<text x="130.5" y="412.8" font-size="8.4" fill="#6a6d78" text-anchor="middle" transform="translate(130.5 0) scale(0.807 1) translate(-130.5 0)">Oct</text>
<text x="198.75" y="412.8" font-size="8.4" fill="#6a6d78" text-anchor="middle" transform="translate(198.75 0) scale(0.807 1) translate(-198.75 0)">Nov</text>
<text x="264.25" y="412.8" font-size="8.4" fill="#6a6d78" text-anchor="middle" transform="translate(264.25 0) scale(0.807 1) translate(-264.25 0)">Dec</text>
<text x="332.5" y="412.8" font-size="8.4" font-weight="bold" fill="#50535e" text-anchor="middle" textLength="17.08" lengthAdjust="spacingAndGlyphs">2022</text>
<text x="400" y="412.8" font-size="8.4" fill="#6a6d78" text-anchor="middle" transform="translate(400 0) scale(0.807 1) translate(-400 0)">Feb</text>
<text x="461.25" y="412.8" font-size="8.4" fill="#6a6d78" text-anchor="middle" transform="translate(461.25 0) scale(0.807 1) translate(-461.25 0)">Mar</text>
<text x="529.25" y="412.8" font-size="8.4" fill="#6a6d78" text-anchor="middle" transform="translate(529.25 0) scale(0.807 1) translate(-529.25 0)">Apr</text>
<text x="595.25" y="412.8" font-size="8.4" fill="#6a6d78" text-anchor="middle" transform="translate(595.25 0) scale(0.807 1) translate(-595.25 0)">May</text>
<text x="662.75" y="412.8" font-size="8.4" fill="#6a6d78" text-anchor="middle" transform="translate(662.75 0) scale(0.807 1) translate(-662.75 0)">Jun</text>
<text x="728.5" y="412.8" font-size="8.4" fill="#6a6d78" text-anchor="middle" transform="translate(728.5 0) scale(0.807 1) translate(-728.5 0)">Jul</text>
<text x="796.6" y="412.8" font-size="8.4" fill="#6a6d78" text-anchor="middle" transform="translate(796.6 0) scale(0.807 1) translate(-796.6 0)">Aug</text>
<text x="864.3" y="412.8" font-size="8.4" fill="#6a6d78" text-anchor="middle" transform="translate(864.3 0) scale(0.807 1) translate(-864.3 0)">Sep</text>
<text x="930" y="412.8" font-size="8.4" fill="#6a6d78" text-anchor="middle" transform="translate(930 0) scale(0.807 1) translate(-930 0)">Oct</text>
<g transform="translate(7.3 429)" fill="#131722"><path d="M0 0H6.2V7.3H3.7V2.4H0Z"/><circle cx="7.9" cy="1.3" r="1.3"/><path d="M10.3 0H13.6L10.1 7.3H6.9Z"/></g>
</svg></body></html>
